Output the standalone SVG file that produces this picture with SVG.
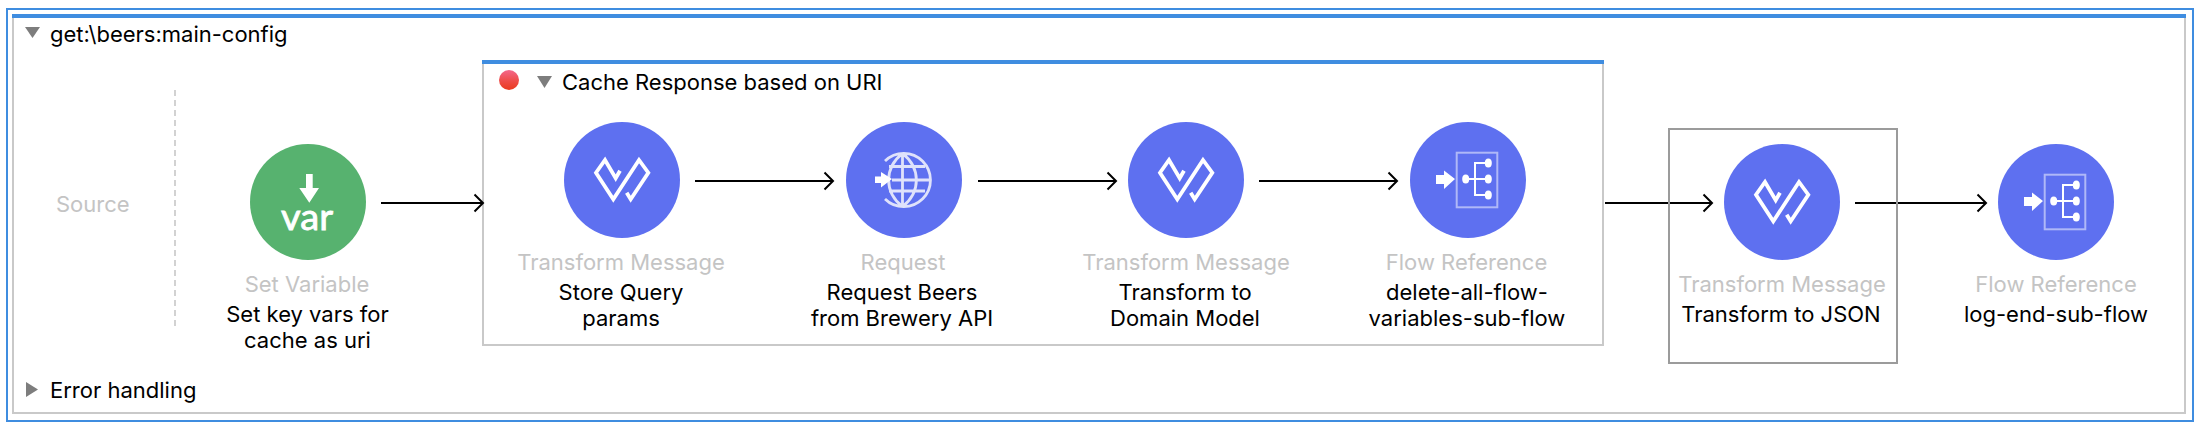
<svg xmlns="http://www.w3.org/2000/svg" width="2210" height="438" viewBox="0 0 2210 438">
<style>
text{font-family:Inter,"Liberation Sans",sans-serif;font-size:22px;fill:#000}
.g{fill:#c4c4c4;text-anchor:middle}
.m{text-anchor:middle}
.s{fill:#c4c4c4}
.blue{fill:#5e70f0}
.conn{stroke:#000;stroke-width:2;fill:none;marker-end:url(#arr)}
.tri{fill:#7d7d7d}
.ic{fill:none;stroke:#fff;stroke-width:3.800}
.gl{fill:none;stroke:#dfe2fb;stroke-width:2.800}
</style>
<defs>
<marker id="arr" markerUnits="userSpaceOnUse" markerWidth="12" markerHeight="20" refX="10" refY="10" orient="auto"><path d="M1.500 1.500L10 10L1.500 18.500" fill="none" stroke="#000" stroke-width="2"/></marker>
<linearGradient id="red" x1="0" y1="0" x2="0" y2="1"><stop offset="0" stop-color="#f4688c"/><stop offset="0.55" stop-color="#ee4c48"/><stop offset="1" stop-color="#ea3a1e"/></linearGradient>
<g id="tm"><circle r="58" class="blue"/><path class="ic" d="M-2-9.300L-6.300-1.700L-17-20L-26-7.300L-8.700 19.300L17-20L26.300-7.300L8.700 19.300L4.700 12.700"/></g>
<g id="fr"><circle r="58" class="blue"/><rect x="-11.300" y="-27.300" width="40.600" height="54.600" fill="none" stroke="#fff" stroke-opacity="0.5" stroke-width="2"/><path fill="#fff" d="M-32-5H-24V-9.500L-13-1L-24 9V4H-32Z"/><path fill="none" stroke="#fff" stroke-width="2" d="M-2-1H20M7-1V-17H20M7-1V15H20"/><ellipse cx="-2.300" cy="-1" rx="3.500" ry="4.500" fill="#fff"/><ellipse cx="20.300" cy="-17" rx="3.500" ry="4.500" fill="#fff"/><ellipse cx="20.300" cy="-1" rx="3.500" ry="4.500" fill="#fff"/><ellipse cx="20.300" cy="15" rx="3.500" ry="4.500" fill="#fff"/></g>
</defs>
<rect width="2210" height="438" fill="#fff"/>
<g id="flow-frame">
<rect x="7" y="9" width="2186" height="412" fill="none" stroke="#3f8de0" stroke-width="2"/>
<rect x="13" y="16" width="2172" height="397" fill="none" stroke="#c9c9c9" stroke-width="2"/>
<rect x="12" y="14" width="2174" height="4" fill="#3f8de0"/>
<path class="tri" d="M25 27H40L32.500 38Z"/>
<text x="50" y="42">get:\beers:main-config</text>
<text class="s" x="56" y="212">Source</text>
<path d="M175 90V327" stroke="#d2d2d2" stroke-width="2" stroke-dasharray="6 4"/>
<path class="tri" d="M26 382L38 389.500L26 397Z"/>
<text x="50" y="398">Error handling</text>
</g>
<g id="cache-scope">
<rect x="483" y="62" width="1120" height="283" fill="none" stroke="#c9c9c9" stroke-width="2"/>
<rect x="482" y="60" width="1122" height="4" fill="#3f8de0"/>
<circle cx="509" cy="80" r="10" fill="url(#red)"/>
<path class="tri" d="M537 76H552L544.500 88Z"/>
<text x="562" y="90">Cache Response based on URI</text>
</g>
<g id="connectors">
<path class="conn" d="M381 203H483"/>
<path class="conn" d="M695 181H833"/>
<path class="conn" d="M978 181H1116"/>
<path class="conn" d="M1259 181H1397"/>
<path class="conn" d="M1605 203H1712"/>
<path class="conn" d="M1855 203H1986"/>
</g>
<g id="set-variable">
<circle cx="308" cy="202" r="58" fill="#57b26f"/>
<path fill="#fff" d="M306 174H312.700V188H319L309.300 202.700L299.300 188H306Z"/>
<text x="281" y="230" textLength="52" lengthAdjust="spacingAndGlyphs" style="font-family:Lato,sans-serif;font-size:36px;font-weight:400;fill:#fff;stroke:#fff;stroke-width:0.800">var</text>
<text class="g" x="307" y="292">Set Variable</text>
<text class="m" x="307.500" y="322">Set key vars for</text>
<text class="m" x="307.500" y="348">cache as uri</text>
</g>
<g id="transform-store">
<use href="#tm" x="622" y="180"/>
<text class="g" x="621" y="270">Transform Message</text>
<text class="m" x="621" y="300">Store Query</text>
<text class="m" x="621" y="326">params</text>
</g>
<g id="request">
<circle cx="904" cy="180" r="58" class="blue"/>
<g transform="translate(904 180)">
<path class="gl" d="M-19-19A26.700 26.700 0 1 1-19 19M-15-13.500H21M-15 11H21M-1.500-26.700V26.700M-12 0H25M-1.500-26.700C-20-12-20 12-1.500 26.700M-1.500-26.700C17-12 17 12-1.500 26.700"/>
<path fill="#fff" d="M-29-3.500H-23V-8L-12-1L-23 7.500V3H-29Z"/>
</g>
<text class="g" x="903" y="270">Request</text>
<text class="m" x="902" y="300">Request Beers</text>
<text class="m" x="902" y="326">from Brewery API</text>
</g>
<g id="transform-domain">
<use href="#tm" x="1186" y="180"/>
<text class="g" x="1186" y="270">Transform Message</text>
<text class="m" x="1185" y="300">Transform to</text>
<text class="m" x="1185" y="326">Domain Model</text>
</g>
<g id="flow-ref-delete">
<use href="#fr" x="1468" y="180"/>
<text class="g" x="1466.500" y="270">Flow Reference</text>
<text class="m" x="1467" y="300">delete-all-flow-</text>
<text class="m" x="1467" y="326">variables-sub-flow</text>
</g>
<g id="transform-json">
<rect x="1669" y="129" width="228" height="234" fill="none" stroke="#9b9b9b" stroke-width="2"/>
<use href="#tm" x="1782" y="202"/>
<text class="g" x="1782" y="292">Transform Message</text>
<text class="m" x="1781" y="322">Transform to JSON</text>
</g>
<g id="flow-ref-log">
<use href="#fr" x="2056" y="202"/>
<text class="g" x="2056" y="292">Flow Reference</text>
<text class="m" x="2056" y="322">log-end-sub-flow</text>
</g>
</svg>
